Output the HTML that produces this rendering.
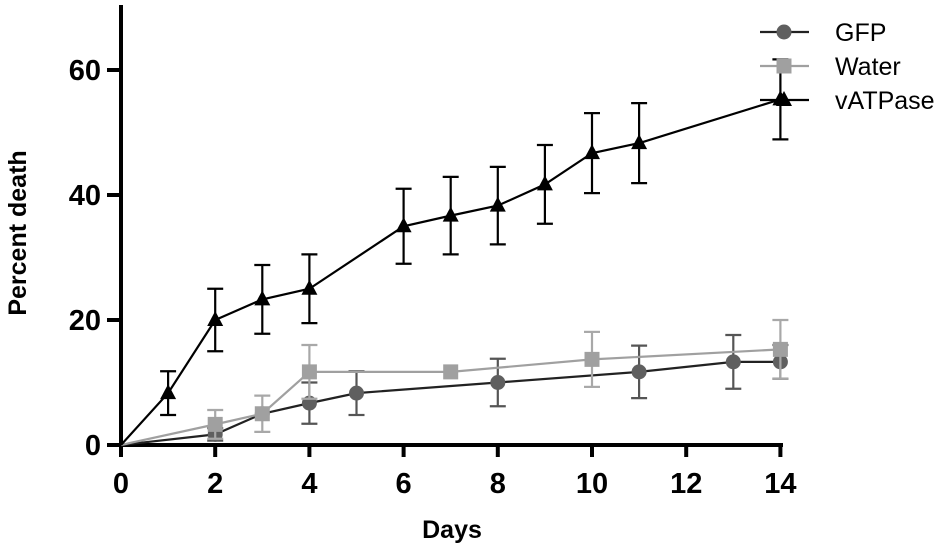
<!DOCTYPE html>
<html><head><meta charset="utf-8"><style>
body{margin:0;background:#fff;}
svg text{font-family:"Liberation Sans",sans-serif;}
</style></head><body>
<svg id="chart" width="950" height="551" viewBox="0 0 950 551" xmlns="http://www.w3.org/2000/svg"></svg>
<script>
const xTicks=[0,2,4,6,8,10,12,14];
const yTicks=[0,20,40,60];
const gfpDays=[0,2,3,4,5,8,11,13,14];
const gfpVals=[0,1.7,5,6.7,8.3,10,11.7,13.3,13.3];
const gfpErr=[0,1,0,3.3,3.5,3.8,4.2,4.3,2.7];
const waterDays=[0,2,3,4,7,10,14];
const waterVals=[0,3.3,5,11.7,11.7,13.7,15.3];
const waterErr=[0,2.3,2.9,4.3,0,4.4,4.7];
const vDays=[0,1,2,3,4,6,7,8,9,10,11,14];
const vVals=[0,8.3,20,23.3,25,35,36.7,38.3,41.7,46.7,48.3,55.3];
const vErr=[0,3.5,5,5.5,5.5,6,6.2,6.2,6.3,6.4,6.4,6.4];

const NS="http://www.w3.org/2000/svg";
const svg=document.getElementById('chart');
const X=d=>121+d*47.1;
const Y=v=>445-v*6.25;
function el(t,a,p){const e=document.createElementNS(NS,t);for(const k in a)e.setAttribute(k,a[k]);(p||svg).appendChild(e);return e;}

const xa=el('line',{x1:119,y1:445,x2:783,y2:445,stroke:'#000','stroke-width':4});


const ya=el('line',{x1:121,y1:5,x2:121,y2:447,stroke:'#000','stroke-width':4});


xTicks.forEach(t=>{
  el('line',{x1:X(t),y1:445,x2:X(t),y2:457,stroke:'#000','stroke-width':4});
  const tx=el('text',{x:X(t),y:493,'text-anchor':'middle','font-size':29,'font-weight':'bold'});
  tx.textContent=t;
  
  
});
yTicks.forEach(t=>{
  el('line',{x1:107,y1:Y(t),x2:121,y2:Y(t),stroke:'#000','stroke-width':4});
  const tx=el('text',{x:101,y:Y(t)+10,'text-anchor':'end','font-size':29,'font-weight':'bold'});
  tx.textContent=t;
  
  
});
const xt=el('text',{x:452,y:538,'text-anchor':'middle','font-size':25,'font-weight':'bold'});
xt.textContent='Days';


const yt=el('text',{x:0,y:0,'text-anchor':'middle','font-size':25,'font-weight':'bold',transform:'translate(26,233) rotate(-90)'});
yt.textContent='Percent death';



function marker(g,type,x,y,fill){
  if(type==='circle')el('circle',{cx:x,cy:y,r:7.5,fill:fill},g);
  else if(type==='square')el('rect',{x:x-7.5,y:y-7.5,width:15,height:15,fill:fill},g);
  else el('polygon',{points:`${x},${y-9} ${x-8},${y+6} ${x+8},${y+6}`,fill:fill},g);
}
function series(name,days,vals,err,lineCol,errCol,mCol,type){
  const g=el('g',{});
  
  
  el('polyline',{points:days.map((d,i)=>X(d)+','+Y(vals[i])).join(' '),fill:'none',stroke:lineCol,'stroke-width':2.2},g);
  days.forEach((d,i)=>{
    if(err[i]>0){
      const x=X(d),y1=Y(vals[i]+err[i]),y2=Y(vals[i]-err[i]);
      el('line',{x1:x,y1:y1,x2:x,y2:y2,stroke:errCol,'stroke-width':2.2},g);
      el('line',{x1:x-8,y1:y1,x2:x+8,y2:y1,stroke:errCol,'stroke-width':2.2},g);
      el('line',{x1:x-8,y1:y2,x2:x+8,y2:y2,stroke:errCol,'stroke-width':2.2},g);
    }
    if(d>0)marker(g,type,X(d),Y(vals[i]),mCol);
  });
}
series('gfp',gfpDays,gfpVals,gfpErr,'#222','#555','#5f5f5f','circle');
series('water',waterDays,waterVals,waterErr,'#a0a0a0','#a8a8a8','#a0a0a0','square');
series('vatpase',vDays,vVals,vErr,'#000','#000','#000','triangle');

const leg=[['GFP','#222','#5f5f5f','circle'],['Water','#a0a0a0','#a0a0a0','square'],['vATPase','#000','#000','triangle']];
leg.forEach((l,i)=>{
  const g=el('g',{});
  
  
  const y=32+i*34;
  el('line',{x1:760,y1:y,x2:809,y2:y,stroke:l[1],'stroke-width':2.2},g);
  marker(g,l[3],784,y,l[2]);
  const t=el('text',{x:835,y:y+9,'font-size':25},g);
  t.textContent=l[0];
});
</script>
</body></html>
